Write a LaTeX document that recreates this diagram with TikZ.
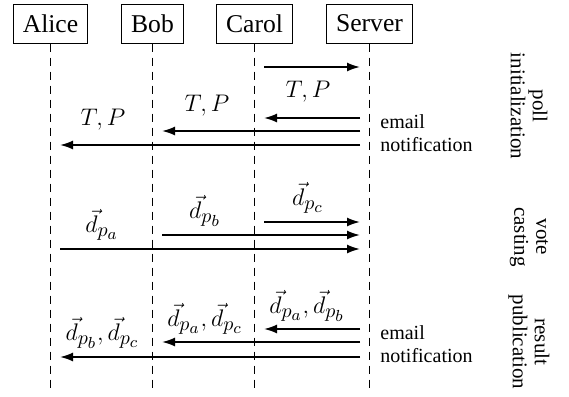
\documentclass[tikz,border=0pt]{standalone}
\usepackage{fontspec}
\setmainfont{Liberation Serif}
\usetikzlibrary{arrows.meta,calc}
\DeclareMathSizes{12.8}{12.8}{9.6}{7.6}

\begin{document}
\begin{tikzpicture}[x=0.5pt,y=-0.5pt,
  actor/.style={draw,line width=0.5pt,inner xsep=4.8pt,inner ysep=0pt,
    minimum height=19.5pt,font=\fontsize{12.8}{15}\selectfont},
  life/.style={line width=0.9pt,dash pattern=on 4pt off 3pt},
  msg/.style={line width=0.9pt,-{Latex[length=6.5pt,width=4.5pt]}},
  lbl/.style={font=\fontsize{12.8}{15}\selectfont,inner sep=0pt},
  note/.style={font=\fontsize{10}{11.5}\selectfont,align=left,anchor=west,inner sep=0pt},
  phase/.style={font=\fontsize{10.5}{11}\selectfont,align=center,rotate=-90,inner sep=0pt}]
\useasboundingbox (0,0) rectangle (569,397);

% participants
\node[actor] (alice)  at (50.5,23.5)  {Alice};
\node[actor] (bob)    at (152.5,23.5) {Bob};
\node[actor] (carol)  at (254.5,23.5) {Carol};
\node[actor] (server) at (369.5,23.5) {Server};

% lifelines
\coordinate (bot) at (0,388);
\foreach \p in {alice,bob,carol,server}
  \draw[life] (\p.south) -- (\p.south |- bot);

% message rows
\coordinate (r1) at (0,67);
\coordinate (r2) at (0,118);
\coordinate (r3) at (0,131);
\coordinate (r4) at (0,145);
\coordinate (v1) at (0,222);
\coordinate (v2) at (0,235);
\coordinate (v3) at (0,249);
\coordinate (p1) at (0,329);
\coordinate (p2) at (0,342);
\coordinate (p3) at (0,357);
\def\gap{4.75pt}

% poll initialization
\draw[msg] ([xshift=\gap]carol.center |- r1) -- ([xshift=-\gap]server.center |- r1);
\draw[msg] ([xshift=-\gap]server.center |- r2) -- ([xshift=\gap]carol.center |- r2);
\draw[msg] ([xshift=-\gap]server.center |- r3) -- ([xshift=\gap]bob.center |- r3);
\draw[msg] ([xshift=-\gap]server.center |- r4) -- ([xshift=\gap]alice.center |- r4);
\node[lbl] (tpc) at (308,92)  {$T,P$};
\node[lbl] (tpb) at (207,106) {$T,P$};
\node[lbl] (tpa) at (103,120) {$T,P$};
\node[note] (note1) at (380,133.5) {email\\notification};

% vote casting
\draw[msg] ([xshift=\gap]carol.center |- v1) -- ([xshift=-\gap]server.center |- v1);
\draw[msg] ([xshift=\gap]bob.center |- v2) -- ([xshift=-\gap]server.center |- v2);
\draw[msg] ([xshift=\gap]alice.center |- v3) -- ([xshift=-\gap]server.center |- v3);
\node[lbl] (dc) at (308,198) {$\vec{d}_{p_c}$};
\node[lbl] (db) at (205,211) {$\vec{d}_{p_b}$};
\node[lbl] (da) at (102,225) {$\vec{d}_{p_a}$};

% result publication
\draw[msg] ([xshift=-\gap]server.center |- p1) -- ([xshift=\gap]carol.center |- p1);
\draw[msg] ([xshift=-\gap]server.center |- p2) -- ([xshift=\gap]bob.center |- p2);
\draw[msg] ([xshift=-\gap]server.center |- p3) -- ([xshift=\gap]alice.center |- p3);
\node[lbl] (rc) at (307,306)   {$\vec{d}_{p_a},\vec{d}_{p_b}$};
\node[lbl] (rb) at (205,319)   {$\vec{d}_{p_a},\vec{d}_{p_c}$};
\node[lbl] (ra) at (102.5,333) {$\vec{d}_{p_b},\vec{d}_{p_c}$};
\node[note] (note2) at (380,344) {email\\notification};

% phase captions
\node[phase] (ph1) at (529,106) {poll\\initialization};
\node[phase] (ph2) at (529,237) {vote\\casting};
\node[phase] (ph3) at (529,342) {result\\publication};
\end{tikzpicture}
\end{document}
